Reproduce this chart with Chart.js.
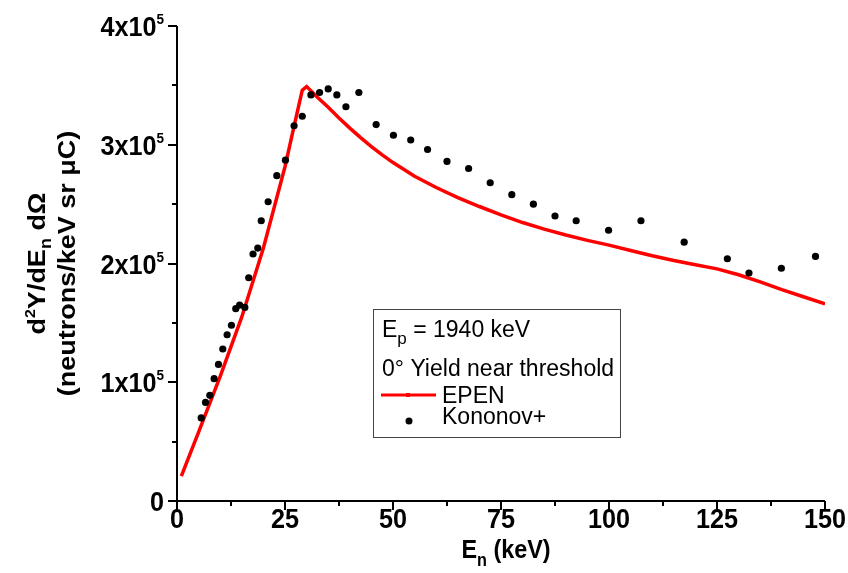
<!DOCTYPE html>
<html>
<head>
<meta charset="utf-8">
<script src="https://cdn.jsdelivr.net/npm/chart.js@4.4.1/dist/chart.umd.min.js"></script>
<style>
  html, body { margin: 0; padding: 0; background: #ffffff; }
  #wrap { width: 848px; height: 573px; }
</style>
</head>
<body>
<div id="wrap"><canvas id="myChart" width="848" height="573"></canvas></div>
<script>
// EPEN calculation (red line)
const epenEnergy = [1, 5, 10, 15, 20, 25, 27, 29, 30, 32.5, 35, 37.5, 40, 42.5, 45, 47.5, 50, 55, 60, 65, 70, 75, 80, 85, 90, 95, 100, 105, 110, 115, 120, 125, 130, 135, 140, 145, 150];
const epenYield = [21000, 58000, 105000, 155000, 213000, 281500, 314000, 346000, 349000, 340000, 331500, 322500, 314000, 306000, 298500, 291500, 285000, 273500, 264000, 255500, 248000, 241000, 234500, 229000, 224000, 219500, 215500, 211000, 206500, 202500, 199000, 195500, 190500, 184500, 178000, 172000, 166000];

// Kononov+ measurement (black dots)
const kononovEnergy = [5.6, 6.6, 7.6, 8.6, 9.6, 10.6, 11.6, 12.6, 13.6, 14.5, 15.7, 16.6, 17.6, 18.7, 19.5, 21.1, 23.1, 25.1, 27.1, 29.0, 31.0, 33.0, 35.0, 37.0, 39.1, 42.1, 46.1, 50.1, 54.1, 58.0, 62.5, 67.5, 72.5, 77.5, 82.5, 87.5, 92.4, 99.9, 107.4, 117.4, 127.4, 132.4, 139.9, 147.8];
const kononovYield = [70000, 83000, 89000, 103000, 115000, 128000, 140000, 148000, 162000, 165000, 163000, 188000, 208000, 213000, 236000, 252000, 274000, 287000, 316000, 324000, 342000, 344000, 347000, 342000, 332000, 344000, 317000, 308000, 304000, 296000, 286000, 280000, 268000, 258000, 250000, 240000, 236000, 228000, 236000, 218000, 204000, 192000, 196000, 206000];

// axis ticks and labels
const xTicks = [0, 25, 50, 75, 100, 125, 150];
const xMinorStep = 12.5;
const yTicks = [0, 100000, 200000, 300000, 400000];
const yTickMantissa = ['0', '1x10', '2x10', '3x10', '4x10'];
const yTickExponent = ['', '5', '5', '5', '5'];
const yMinorStep = 50000;

const legendTitle = ['E', 'p', ' = 1940 keV'];
const legendSubtitle = '0\u00b0 Yield near threshold';

const SANS = '"Liberation Sans", Arial, sans-serif';
function font(size, bold) {
    return (bold ? 'bold ' : '') + size + 'px ' + SANS;
}

// draws a run of text pieces (for sub/superscripts)
function richText(ctx, parts, x, y, align, rotate, sx) {
    ctx.save();
    ctx.translate(x, y);
    ctx.scale(sx || 1, 1);
    if (rotate) ctx.rotate(-Math.PI / 2);
    ctx.textBaseline = 'alphabetic';
    ctx.textAlign = 'left';
    let total = 0;
    const widths = parts.map(p => {
        ctx.font = p.font;
        const w = ctx.measureText(p.text).width;
        total += w;
        return w;
    });
    let cx = align === 'right' ? -total : align === 'center' ? -total / 2 : 0;
    parts.forEach((p, i) => {
        ctx.font = p.font;
        ctx.fillText(p.text, cx, p.dy || 0);
        cx += widths[i];
    });
    ctx.restore();
}

const axesPlugin = {
    id: 'originAxes',
    afterDraw(chart) {
        const ctx = chart.ctx;
        const area = chart.chartArea;
        const xs = chart.scales.x;
        const ys = chart.scales.y;
        ctx.save();
        ctx.strokeStyle = '#000';
        ctx.fillStyle = '#000';
        ctx.lineWidth = 2;

        // axis lines
        ctx.beginPath();
        ctx.moveTo(area.left, area.top);
        ctx.lineTo(area.left, area.bottom);
        ctx.lineTo(area.right, area.bottom);
        ctx.stroke();

        // y ticks
        for (let v = ys.min; v <= ys.max; v += yMinorStep) {
            const py = Math.round(ys.getPixelForValue(v));
            const len = yTicks.includes(v) ? 9 : 5;
            ctx.beginPath();
            ctx.moveTo(area.left - len, py);
            ctx.lineTo(area.left, py);
            ctx.stroke();
        }
        // x ticks
        for (let v = xs.min; v <= xs.max; v += xMinorStep) {
            const px = Math.round(xs.getPixelForValue(v));
            const len = xTicks.includes(v) ? 9 : 5;
            ctx.beginPath();
            ctx.moveTo(px, area.bottom);
            ctx.lineTo(px, area.bottom + len);
            ctx.stroke();
        }

        // y tick labels
        yTicks.forEach((v, i) => {
            const py = ys.getPixelForValue(v);
            const parts = [{ text: yTickMantissa[i], font: font(28, true) }];
            if (yTickExponent[i]) parts.push({ text: yTickExponent[i], font: font(15, true), dy: -12 });
            richText(ctx, parts, 164, py + 10, 'right', false, 0.9);
        });
        // x tick labels
        xTicks.forEach(v => {
            const px = xs.getPixelForValue(v);
            richText(ctx, [{ text: String(v), font: font(28, true) }], px, 528, 'center', false, 0.9);
        });

        // x title
        richText(ctx, [
            { text: 'E', font: font(26, true) },
            { text: 'n', font: font(18, true), dy: 8 },
            { text: ' (keV)', font: font(26, true) }
        ], (area.left + area.right) / 2 + 5, 558, 'center', false, 0.9);

        // y title (two lines, rotated)
        const yMid = (area.top + area.bottom) / 2;
        richText(ctx, [
            { text: 'd', font: font(27, true) },
            { text: '2', font: font(16, true), dy: -11 },
            { text: 'Y/dE', font: font(27, true) },
            { text: 'n', font: font(18, true), dy: 7 },
            { text: ' d\u03a9', font: font(27, true) }
        ], 45, yMid, 'center', true, 0.92);
        richText(ctx, [{ text: '(neutrons/keV sr \u03bcC)', font: font(27, true) }], 75, yMid, 'center', true, 0.92);

        // legend box
        ctx.lineWidth = 1;
        ctx.strokeStyle = '#444';
        ctx.strokeRect(373.5, 309.5, 247, 128);
        richText(ctx, [
            { text: legendTitle[0], font: font(23, false) },
            { text: legendTitle[1], font: font(17, false), dy: 7 },
            { text: legendTitle[2], font: font(23, false) }
        ], 382, 337, 'left', false, 1);
        richText(ctx, [{ text: legendSubtitle, font: font(23, false) }], 382, 376, 'left', false, 1);

        const dsLine = chart.data.datasets[1];
        const dsDots = chart.data.datasets[0];
        ctx.strokeStyle = dsLine.borderColor;
        ctx.lineWidth = 3;
        ctx.beginPath();
        ctx.moveTo(381, 395);
        ctx.lineTo(436, 395);
        ctx.stroke();
        ctx.fillStyle = dsLine.borderColor;
        ctx.fillRect(406, 393, 4, 4);
        ctx.fillStyle = '#000';
        richText(ctx, [{ text: dsLine.label, font: font(23, false) }], 442, 403, 'left', false, 1);
        ctx.fillStyle = dsDots.backgroundColor;
        ctx.beginPath();
        ctx.arc(409, 421, 3.5, 0, Math.PI * 2);
        ctx.fill();
        ctx.fillStyle = '#000';
        richText(ctx, [{ text: dsDots.label, font: font(23, false) }], 442, 424, 'left', false, 1);

        ctx.restore();
    }
};

const ctx = document.getElementById('myChart').getContext('2d');
const myChart = new Chart(ctx, {
    type: 'scatter',
    data: {
        datasets: [{
            label: 'Kononov+',
            data: kononovEnergy.map((e, i) => ({ x: e, y: kononovYield[i] })),
            backgroundColor: '#000000',
            borderWidth: 0,
            pointRadius: 3.6,
            showLine: false
        }, {
            label: 'EPEN',
            data: epenEnergy.map((e, i) => ({ x: e, y: epenYield[i] })),
            borderColor: '#ff0000',
            borderWidth: 3.5,
            pointRadius: 0,
            showLine: true,
            tension: 0,
            fill: false
        }]
    },
    options: {
        responsive: false,
        animation: false,
        layout: { padding: { left: 177, right: 23, top: 26, bottom: 72 } },
        plugins: { legend: { display: false }, tooltip: { enabled: false } },
        scales: {
            x: { type: 'linear', min: 0, max: 150, display: false },
            y: { type: 'linear', min: 0, max: 400000, display: false }
        }
    },
    plugins: [axesPlugin]
});
</script>
</body>
</html>
